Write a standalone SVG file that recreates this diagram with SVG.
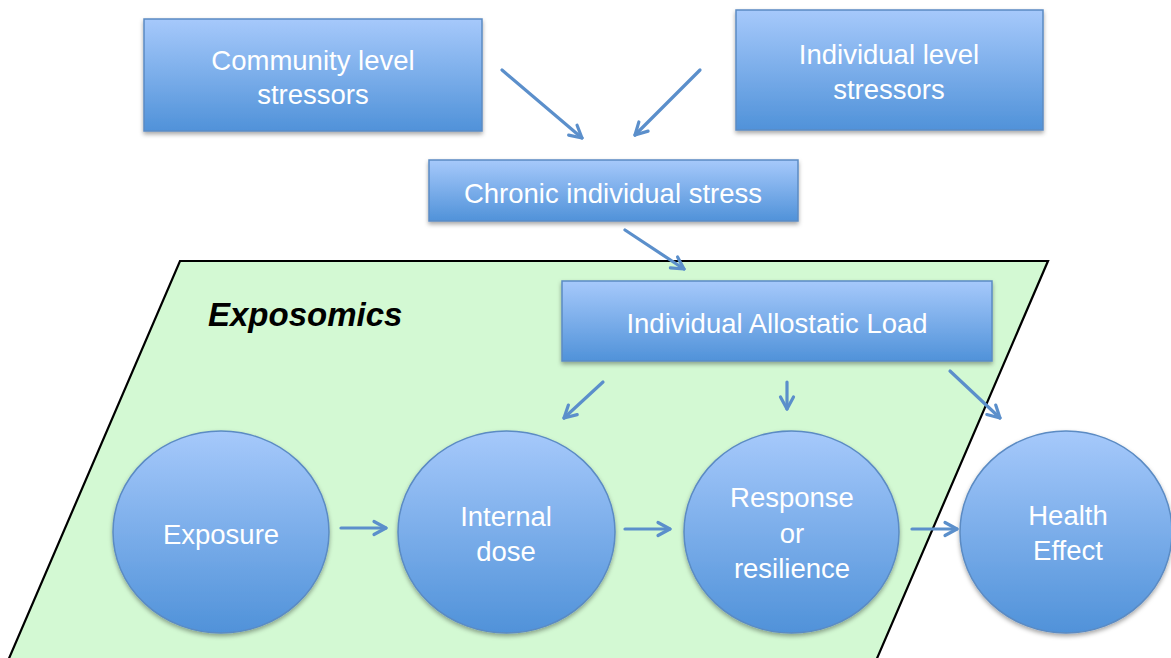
<svg xmlns="http://www.w3.org/2000/svg" width="1171" height="658" viewBox="0 0 1171 658">
<style>
.node{stroke:#5b8bc3;stroke-width:1.5;filter:url(#sh)}
.box{fill:url(#gBox)}
.circ{fill:url(#gCirc)}
.lbl{font-family:"Liberation Sans",Arial,sans-serif;font-size:27.5px;fill:#ffffff;text-anchor:middle}
.conn{stroke:#5b8fcb;stroke-width:3.2;fill:none;stroke-linecap:round;marker-end:url(#ah)}
.title{font-family:"Liberation Sans",Arial,sans-serif;font-size:33px;font-weight:bold;font-style:italic;fill:#000000}
</style>
<defs>
<linearGradient id="gBox" x1="0" y1="0" x2="0" y2="1">
<stop offset="0" stop-color="#a6c9fb"/>
<stop offset="1" stop-color="#5092d9"/>
</linearGradient>
<linearGradient id="gCirc" x1="0" y1="0" x2="0" y2="1">
<stop offset="0" stop-color="#a6c9fb"/>
<stop offset="1" stop-color="#5092d9"/>
</linearGradient>
<filter id="sh" x="-10%" y="-10%" width="120%" height="130%">
<feDropShadow dx="0" dy="2.5" stdDeviation="2" flood-color="#000000" flood-opacity="0.35"/>
</filter>
<marker id="ah" markerUnits="userSpaceOnUse" markerWidth="30" markerHeight="30" refX="15" refY="15" orient="auto" overflow="visible">
<path d="M3,8.5 L15,15 L3,21.5" fill="none" stroke="#5b8fcb" stroke-width="3.2" stroke-linecap="round" stroke-linejoin="round"/>
</marker>
</defs>
<rect width="1171" height="658" fill="#ffffff"/>
<g id="exposomics-area">
<polygon points="180,261 1048,261 872,670 4,670" fill="#d3f9d3" stroke="#000000" stroke-width="2.2" stroke-linejoin="miter"/>
<text class="title" x="208" y="326">Exposomics</text>
</g>
<g id="community">
<rect class="node box" x="144" y="19" width="338" height="112"/>
<text class="lbl" x="313" y="70">Community level</text>
<text class="lbl" x="313" y="104">stressors</text>
</g>
<g id="individual">
<rect class="node box" x="736" y="10" width="307" height="120"/>
<text class="lbl" x="889" y="64">Individual level</text>
<text class="lbl" x="889" y="99">stressors</text>
</g>
<g id="chronic">
<rect class="node box" x="429" y="160" width="369" height="61"/>
<text class="lbl" x="613" y="203">Chronic individual stress</text>
</g>
<g id="allostatic">
<rect class="node box" x="562" y="281" width="430" height="80"/>
<text class="lbl" x="777" y="333">Individual Allostatic Load</text>
</g>
<g id="exposure">
<ellipse class="node circ" cx="221" cy="532" rx="108" ry="101"/>
<text class="lbl" x="221" y="544">Exposure</text>
</g>
<g id="internal-dose">
<ellipse class="node circ" cx="506.5" cy="532" rx="108.5" ry="101"/>
<text class="lbl" x="506" y="526">Internal</text>
<text class="lbl" x="506" y="561">dose</text>
</g>
<g id="response">
<ellipse class="node circ" cx="791.5" cy="532" rx="107.5" ry="101"/>
<text class="lbl" x="792" y="507">Response</text>
<text class="lbl" x="792" y="543">or</text>
<text class="lbl" x="792" y="578">resilience</text>
</g>
<g id="health">
<ellipse class="node circ" cx="1066" cy="532" rx="106" ry="101"/>
<text class="lbl" x="1068" y="525">Health</text>
<text class="lbl" x="1068" y="560">Effect</text>
</g>
<g id="connectors">
<line class="conn" x1="502" y1="70" x2="582" y2="138"/>
<line class="conn" x1="700" y1="70" x2="635" y2="135"/>
<line class="conn" x1="625" y1="230" x2="684" y2="269"/>
<line class="conn" x1="603" y1="382" x2="564" y2="418"/>
<line class="conn" x1="787" y1="382" x2="787" y2="409"/>
<line class="conn" x1="950" y1="371" x2="1000" y2="418"/>
<line class="conn" x1="341" y1="528" x2="386" y2="528"/>
<line class="conn" x1="625" y1="529" x2="670" y2="529"/>
<line class="conn" x1="912" y1="529" x2="957" y2="529"/>
</g>
</svg>
